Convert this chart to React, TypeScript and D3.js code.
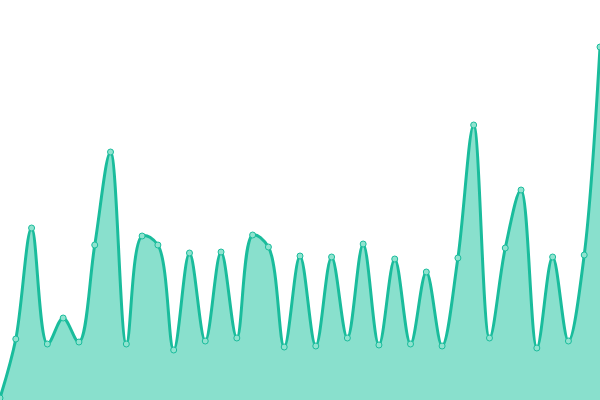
import { useMemo } from "react";
import * as d3 from "d3";

const width = 600;
const height = 400;

// values (0 = bottom edge, 400 = top edge)
const values = [
  2, 61, 172, 56, 82, 58, 155, 248, 56, 164, 155, 50, 147, 59, 148, 62, 165, 153, 53, 144,
  54, 143, 62, 156, 55, 141, 56, 128, 54, 142, 275, 62, 152, 210, 52, 143, 59, 145, 353,
];

const lineColor = "#1abc9c";
const areaColor = "#89e0cd";
const dotColor = "#8fe3cf";

export default function App() {
  const xScale = d3.scaleLinear().domain([0, values.length - 1]).range([0, width]);
  const yScale = d3.scaleLinear().domain([0, 400]).range([height, 0]);

  const { areaPath, linePath } = useMemo(() => {
    const area = d3
      .area<number>()
      .x((d, i) => xScale(i))
      .y0(height)
      .y1((d) => yScale(d))
      .curve(d3.curveCatmullRom.alpha(0.5));
    const line = d3
      .line<number>()
      .x((d, i) => xScale(i))
      .y((d) => yScale(d))
      .curve(d3.curveCatmullRom.alpha(0.5));
    return { areaPath: area(values), linePath: line(values) };
  }, []);

  return (
    <svg
      width={width}
      height={height}
      style={{ position: "fixed", top: 0, left: 0, display: "block" }}
    >
      <path d={areaPath || ""} fill={areaColor} />
      <path d={linePath || ""} fill="none" stroke={lineColor} strokeWidth={3} />
      {values.map((d, i) => (
        <circle
          key={i}
          cx={xScale(i)}
          cy={yScale(d)}
          r={3}
          fill={dotColor}
          stroke={lineColor}
          strokeWidth={1}
        />
      ))}
    </svg>
  );
}
